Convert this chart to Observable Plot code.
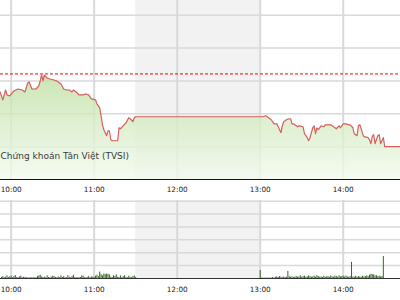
<!DOCTYPE html>
<html>
<head>
<meta charset="utf-8">
<script src="https://cdn.jsdelivr.net/npm/d3@7"></script>
<script src="https://cdn.jsdelivr.net/npm/@observablehq/plot@0.6"></script>
<style>
  html, body { margin: 0; padding: 0; background: #fff; }
  #chart svg { display: block; }
</style>
</head>
<body>
<div id="chart"></div>
<script>
// ---- data ----
const priceTimes = ["9:52","9:54","9:56","9:57","9:59","10:02","10:05","10:08","10:10","10:12","10:13","10:15","10:18","10:20","10:21","10:22","10:23","10:24","10:26","10:28","10:31","10:33","10:36","10:38","10:40","10:42","10:44","10:45","10:47","10:49","10:52","10:54","10:56","10:58","11:01","11:02","11:04","11:05","11:06","11:07","11:09","11:10","11:11","11:12","11:13","11:15","11:17","11:18","11:19","11:21","11:23","11:25","11:26","11:28","11:29","11:30",
  "13:00","13:02","13:04","13:06","13:08","13:10","13:12","13:13","13:15","13:16","13:17","13:19","13:21","13:22","13:23","13:24","13:26","13:27","13:28","13:31","13:32","13:34","13:35","13:36","13:38","13:39","13:40","13:41","13:42","13:44","13:46","13:47","13:51","13:53","13:55","13:57","13:58","13:59","14:00","14:02","14:04","14:05","14:07","14:08","14:10","14:11","14:12","14:13","14:14","14:15","14:18","14:19","14:20","14:21","14:22","14:23","14:25","14:26","14:27","14:29","14:30","14:42"];
const priceValues = [563.33,562.85,563.45,563.15,563.09,563.39,563.51,563.45,563.33,563.88,563.94,563.51,563.51,563.70,564.00,564.36,564.00,564.36,564.18,564.12,564.06,564.00,563.82,563.51,563.45,563.45,563.33,563.45,563.33,563.15,563.15,563.21,563.15,562.91,562.85,562.61,562.36,561.88,561.33,561.03,560.67,560.97,560.97,560.42,560.36,560.36,560.36,561.15,561.09,561.27,561.45,561.76,561.70,561.52,561.76,561.82,
  561.82,561.82,561.88,561.76,561.64,561.39,561.39,561.21,560.85,561.27,561.52,561.64,561.70,561.70,561.39,561.39,561.27,561.21,561.27,561.21,560.79,560.55,560.36,560.55,561.15,561.27,560.79,561.15,561.03,561.27,561.21,561.33,561.33,561.21,561.09,561.27,561.15,561.27,561.39,561.39,561.33,561.33,561.15,560.79,560.67,561.27,561.33,561.09,560.79,560.61,560.55,560.42,560.18,560.61,560.73,560.18,560.67,560.73,560.18,560.55,560.00,560.00];
const referencePrice = 564.43;
const lunchBreak = ["11:30", "13:00"];

const morningVolStart = "9:53";
const morningVol = [0.08,0.15,0.06,0.1,0.2,0.08,0.12,0.18,0.06,0.15,
  0.22,0.08,0.06,0.12,0.18,0.06,0.1,0.08,0.06,0.05,
  0.05,0.05,0.06,0.05,0.05,0.06,0.15,0.2,0.25,0.12,
  0.08,0.1,0.06,0.2,0.08,0.06,0.1,0.18,0.15,0.08,
  0.06,0.12,0.06,0.2,0.08,0.15,0.06,0.06,0.22,0.1,
  0.06,0.15,0.25,0.08,0.06,0.05,0.06,0.08,0.2,0.18,
  0.06,0.05,0.08,0.15,0.06,0.12,0.1,0.08,0.18,0.25,
  0.15,0.5,0.3,0.2,0.35,0.3,0.35,0.32,0.28,0.1,
  0.08,0.22,0.15,0.28,0.1,0.08,0.2,0.06,0.15,0.22,
  0.08,0.06,0.18,0.1,0.06,0.15,0.2,0.08];
const afternoonVolStart = "13:00";
const afternoonVol = [0.62,
  0.03,0.03,0.03,0.03,0.03,0.03,0.03,0.03,0.08,0.03,0.1,0.12,
  0.08,0.15,0.1,0.06,0.12,0.08,0.1,
  0.55,
  0.15,0.1,0.12,0.08,0.1,0.15,0.1,0.12,0.2,0.1,
  0.15,0.18,0.1,0.12,0.2,0.15,0.1,0.12,0.18,0.1,
  0.22,0.15,0.1,0.12,0.08,0.18,0.1,0.12,0.15,0.1,
  0.2,0.12,0.1,0.18,0.15,0.1,0.2,0.12,0.15,0.18,
  0.1,0.2,0.12,0.1,0.15,
  1.25,
  0.12,0.1,0.18,0.1,0.15,0.12,0.1,0.18,0.12,0.15,0.2,0.15,
  0.25,0.32,0.3,0.28,0.2,0.22,
  0.15,0.18,0.12,0.15,
  1.7];

const timeTicks = ["10:00","11:00","12:00","13:00","14:00"];
const priceTicks = [560, 562, 564, 566, 568];
const volTicks = [1, 2, 3, 4, 5, 6];
const sourceLabel = "Chứng khoán Tân Việt (TVSI)";

// ---- helpers ----
const T = (s) => { const [h, m] = s.split(":").map(Number); return new Date(Date.UTC(2013, 0, 1, h, m)); };
const addMin = (d, k) => new Date(d.getTime() + k * 60000);
const prices = priceTimes.map((t, i) => ({t: T(t), p: priceValues[i]}));
const vols = [
  ...morningVol.map((v, i) => ({t: addMin(T(morningVolStart), i), v})),
  ...afternoonVol.map((v, i) => ({t: addMin(T(afternoonVolStart), i), v}))
];
const xDomain = [new Date(Date.UTC(2013,0,1,9,52,18)), new Date(Date.UTC(2013,0,1,14,41,24))];
const yDomain = [558, 568.9];
const ticksX = timeTicks.map(T);
const lunch = [{x1: T(lunchBreak[0]), x2: T(lunchBreak[1])}];
const fmt = d3.utcFormat("%H:%M");
const font = "'DejaVu Sans', Verdana, sans-serif";

const gradient = () => {
  const defs = d3.create("svg:defs");
  const g = defs.append("linearGradient").attr("id", "areaGrad").attr("x1", 0).attr("y1", 0).attr("x2", 0).attr("y2", 1);
  g.append("stop").attr("offset", "0%").attr("stop-color", "#bfe0a3");
  g.append("stop").attr("offset", "100%").attr("stop-color", "#f3faee");
  return defs.node();
};

const priceChart = Plot.plot({
  width: 400, height: 200,
  marginTop: 0, marginBottom: 21, marginLeft: 0, marginRight: 0,
  style: {fontFamily: font, fontSize: "7.3px", color: "#222", background: "transparent"},
  x: {type: "utc", domain: xDomain, ticks: ticksX, tickFormat: fmt, tickSize: 0, tickPadding: 7},
  y: {domain: yDomain, axis: null},
  marks: [
    gradient,
    Plot.rect(lunch, {x1: "x1", x2: "x2", fill: "#f2f2f2"}),
    Plot.ruleX(ticksX, {stroke: "#d9d9d9", strokeWidth: 2}),
    Plot.ruleY(priceTicks, {stroke: "#d9d9d9", strokeWidth: 1.5}),
    Plot.areaY(prices, {x: "t", y1: yDomain[0], y2: "p", fill: "url(#areaGrad)", fillOpacity: 0.8, clip: true}),
    Plot.line(prices, {x: "t", y: "p", stroke: "#d65f5f", strokeWidth: 1.2, clip: true}),
    Plot.ruleY([referencePrice], {stroke: "#ff0000", strokeWidth: 1, strokeDasharray: "3,2"}),
    Plot.text([sourceLabel], {frameAnchor: "bottom-left", dx: 0, dy: -21, textAnchor: "start", text: d => d, fill: "#3a3a3a", fontSize: 9, fontFamily: font}),
    Plot.ruleY([yDomain[0]], {stroke: "#111", strokeWidth: 1.2})
  ]
});

const volumeChart = Plot.plot({
  width: 400, height: 100,
  marginTop: 0, marginBottom: 22, marginLeft: 0, marginRight: 0,
  style: {fontFamily: font, fontSize: "7.3px", color: "#222", background: "transparent"},
  x: {type: "utc", domain: xDomain, ticks: ticksX, tickFormat: fmt, tickSize: 0, tickPadding: 8},
  y: {domain: [0, 6.05], axis: null},
  marks: [
    Plot.rect(lunch, {x1: "x1", x2: "x2", fill: "#f2f2f2"}),
    Plot.ruleX(ticksX, {stroke: "#d9d9d9", strokeWidth: 2}),
    Plot.ruleY(volTicks, {stroke: "#d9d9d9", strokeWidth: 1.5}),
    Plot.ruleY([0], {stroke: "#333", strokeWidth: 1.2}),
    Plot.ruleX(vols, {x: "t", y1: 0, y2: "v", stroke: "#2f6a22", strokeWidth: 1})
  ]
});

document.getElementById("chart").append(priceChart, volumeChart);
</script>
</body>
</html>
